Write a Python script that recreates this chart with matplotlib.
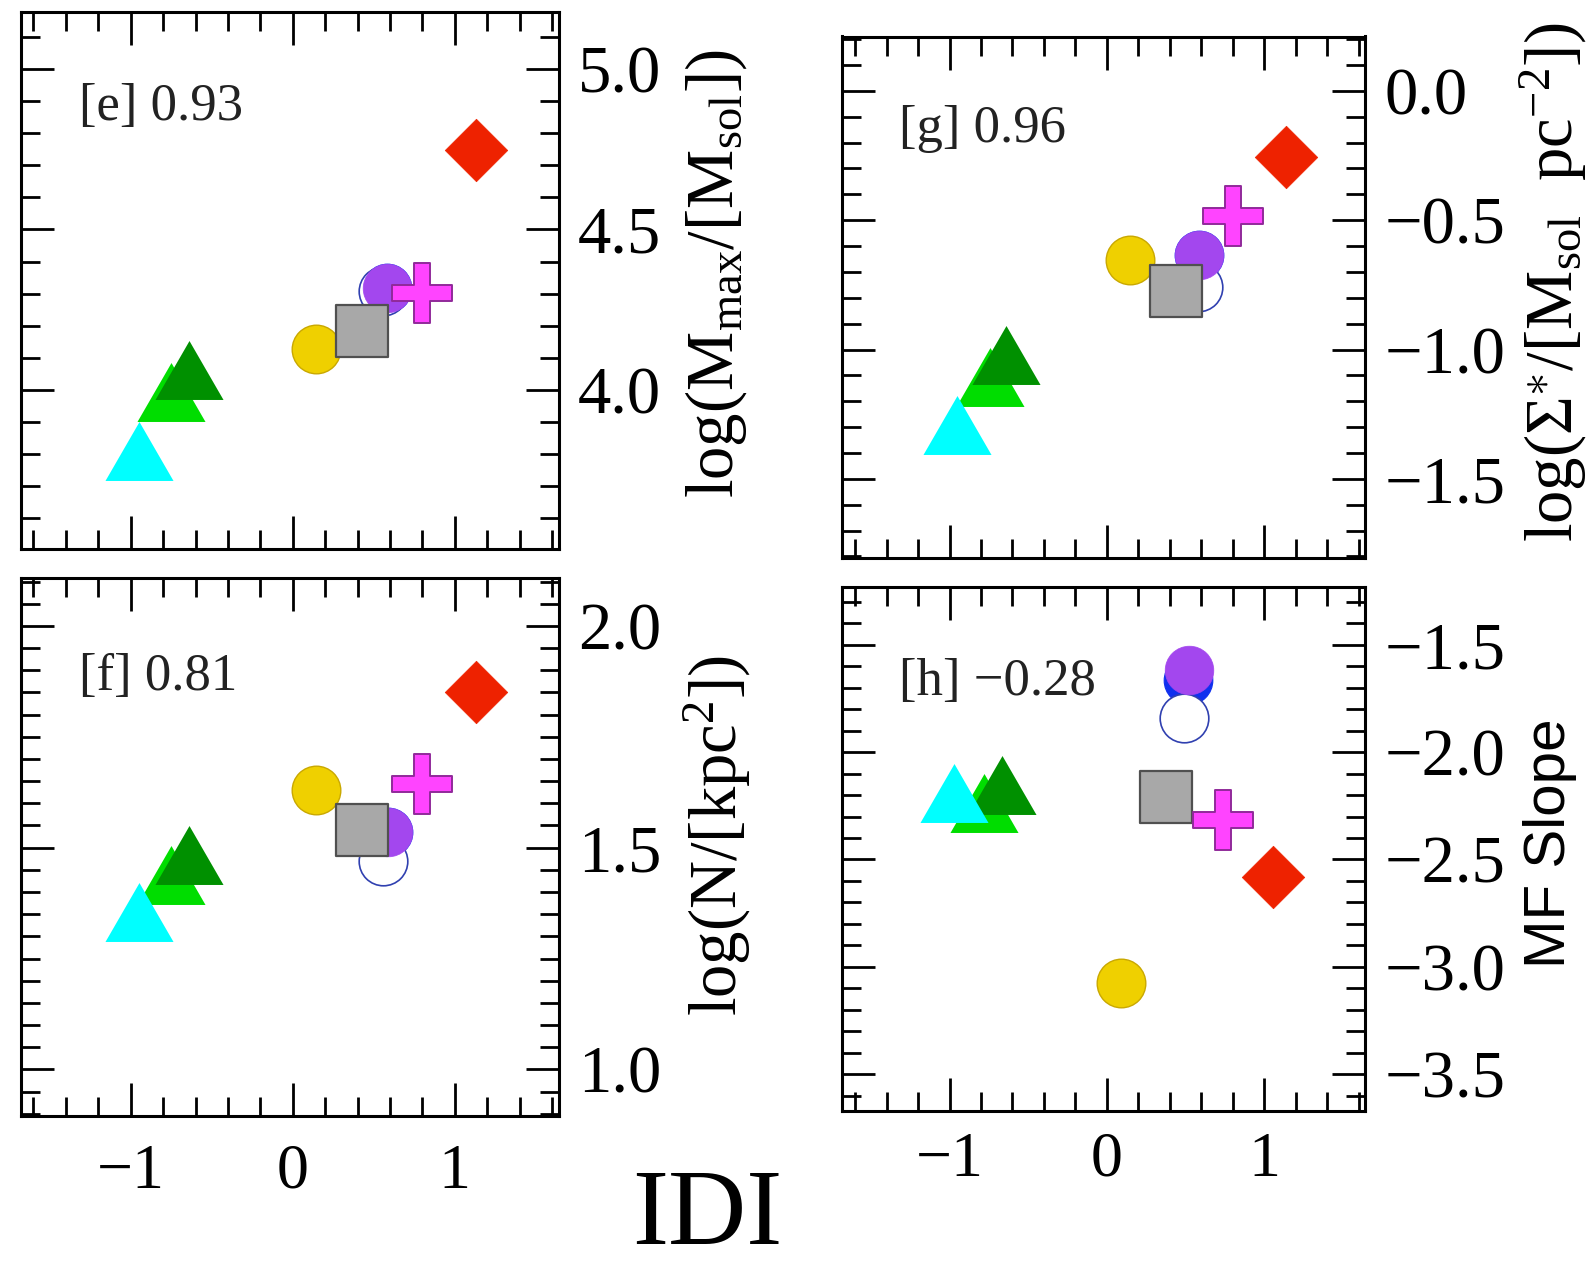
import numpy as np
import matplotlib
matplotlib.use("Agg")
import matplotlib.pyplot as plt
from matplotlib.path import Path
from matplotlib.ticker import MultipleLocator

plt.rcParams['font.family'] = ['Liberation Serif', 'DejaVu Serif']
plt.rcParams['mathtext.fontset'] = 'custom'
plt.rcParams['mathtext.rm'] = 'Liberation Serif'
plt.rcParams['mathtext.it'] = 'Liberation Serif:italic'
plt.rcParams['mathtext.bf'] = 'Liberation Serif:bold'

# ---------------- data ----------------
series = ["tri_lime", "tri_dkgreen", "tri_cyan", "circ_yellow", "circ_blue",
          "circ_open", "circ_purple", "sq_gray", "plus_magenta", "diamond_red"]

# panel [e]  log(Mmax)
idi_e = [-0.752, -0.642, -0.950, 0.145, 0.580, 0.554, 0.580, 0.428, 0.800, 1.130]
mmax_e = [3.994, 4.061, 3.809, 4.128, 4.317, 4.309, 4.317, 4.183, 4.302, 4.747]

# panel [f]  log(N)
idi_f = [-0.752, -0.642, -0.950, 0.145, 0.585, 0.554, 0.585, 0.428, 0.800, 1.130]
n_f = [1.438, 1.483, 1.355, 1.631, 1.536, 1.470, 1.536, 1.539, 1.643, 1.851]

# panel [g]  log(Sigma*)
idi_g = [-0.740, -0.644, -0.952, 0.149, 0.588, 0.580, 0.588, 0.437, 0.800, 1.137]
sigma_g = [-1.106, -1.021, -1.292, -0.655, -0.634, -0.759, -0.634, -0.772, -0.483, -0.255]

# panel [h]  MF slope
idi_h = [-0.782, -0.669, -0.974, 0.091, 0.518, 0.492, 0.524, 0.373, 0.736, 1.053]
slope_h = [-2.237, -2.153, -2.192, -3.075, -1.667, -1.842, -1.617, -2.208, -2.317, -2.580]

labels_corr = ["[e] 0.93", "[f] 0.81", "[g] 0.96", "[h] \u22120.28"]
xticks = [-1, 0, 1]

# ---------------- marker shapes ----------------
def closed(verts):
    v = np.array(verts + [verts[0]], dtype=float)
    return Path(v, closed=True)

s3 = np.sqrt(3) / 2
TRI = closed([(-1, -s3), (1, -s3), (0, s3)])
SQR = closed([(-1, -1), (1, -1), (1, 1), (-1, 1)])
DIA = closed([(0, 1), (1, 0), (0, -1), (-1, 0)])
t = 0.28
PLUS = closed([(-t, 1), (t, 1), (t, t), (1, t), (1, -t), (t, -t), (t, -1),
               (-t, -1), (-t, -t), (-1, -t), (-1, t), (-t, t)])

styles = {
    "tri_lime":     dict(marker=TRI, ms=49, mfc="#00dd00", mec="none", mew=0),
    "tri_dkgreen":  dict(marker=TRI, ms=49, mfc="#009000", mec="none", mew=0),
    "tri_cyan":     dict(marker=TRI, ms=49, mfc="#00ffff", mec="none", mew=0),
    "circ_yellow":  dict(marker="o", ms=35, mfc="#efd000", mec="#c9a800", mew=1.0),
    "circ_blue":    dict(marker="o", ms=35, mfc="#1030ee", mec="#1030ee", mew=0.8),
    "circ_open":    dict(marker="o", ms=35, mfc="white", mec="#3040b0", mew=1.2),
    "circ_purple":  dict(marker="o", ms=35, mfc="#a347ee", mec="#a347ee", mew=0.5),
    "sq_gray":      dict(marker=SQR, ms=37, mfc="#a8a8a8", mec="#505050", mew=1.6),
    "plus_magenta": dict(marker=PLUS, ms=43, mfc="#ff44ff", mec="#902a9a", mew=1.4),
    "diamond_red":  dict(marker=DIA, ms=45, mfc="#ee2200", mec="#ee2200", mew=0.5),
}

W, H = 1591, 1268
fig = plt.figure(figsize=(W / 100, H / 100), dpi=100)

def rect(l, r, t_, b):
    return [l / W, 1 - b / H, (r - l) / W, (b - t_) / H]

panels = [
    dict(rect=rect(20.5, 558.5, 12, 549), x=idi_e, y=mmax_e, ylim=(3.504, 5.178),
         ymaj=0.5, ymin=0.1, fmt="{:.1f}",
         ylabel=r"log(M$_{\rm max}$/[M$_{\rm sol}$])", lab=(1.293, 0.512), lfam=None,
         xlab=False, txt=labels_corr[0], txy=(0.109, 0.799), xpad=20),
    dict(rect=rect(20.5, 558.5, 578, 1116), x=idi_f, y=n_f, ylim=(0.895, 2.108),
         ymaj=0.5, ymin=0.05, fmt="{:.1f}",
         ylabel=r"log(N/[kpc$^{2}$])", lab=(1.295, 0.522), lfam=None,
         xlab=True, txt=labels_corr[1], txy=(0.109, 0.792), xpad=20),
    dict(rect=rect(842.5, 1365, 36.5, 558), x=idi_g, y=sigma_g, ylim=(-1.806, 0.21),
         ymaj=0.5, ymin=0.1, fmt="{:.1f}",
         ylabel=r"log($\Sigma^{\ast}$/[M$_{\rm sol}$  pc$^{-2}$])", lab=(1.360, 0.529), lfam=None,
         xlab=False, txt=labels_corr[2], txy=(0.108, 0.798), xpad=15),
    dict(rect=rect(842.5, 1365, 586.5, 1111), x=idi_h, y=slope_h, ylim=(-3.67, -1.23),
         ymaj=0.5, ymin=0.1, fmt="{:.1f}",
         ylabel="MF Slope", lab=(1.354, 0.511), lfam="Liberation Sans",
         xlab=True, txt=labels_corr[3], txy=(0.108, 0.793), xpad=15),
]

for p in panels:
    ax = fig.add_axes(p["rect"])
    for name, xv, yv in zip(series, p["x"], p["y"]):
        ax.plot([xv], [yv], linestyle="none", **styles[name])
    ax.set_xlim(-1.68, 1.64)
    ax.set_ylim(*p["ylim"])
    ax.xaxis.set_major_locator(MultipleLocator(1))
    ax.xaxis.set_minor_locator(MultipleLocator(0.2))
    ax.yaxis.set_major_locator(MultipleLocator(p["ymaj"]))
    ax.yaxis.set_minor_locator(MultipleLocator(p["ymin"]))
    ax.tick_params(which="both", direction="in", top=True, bottom=True,
                   left=True, right=True, width=2.0, color="black")
    ax.tick_params(which="major", length=24)
    ax.tick_params(which="minor", length=14)
    ax.tick_params(axis="y", labelleft=False, labelright=True, labelsize=48, pad=14)
    ax.tick_params(axis="x", labelsize=46, pad=p["xpad"], labelbottom=p["xlab"])
    ax.set_xticks(xticks)
    ax.set_xticklabels([("\u2212" if v < 0 else "") + str(abs(v)) for v in xticks])
    yt = [v for v in ax.get_yticks() if p["ylim"][0] <= v <= p["ylim"][1]]
    ax.set_yticks(yt)
    ax.set_yticklabels([p["fmt"].format(v).replace("-", "\u2212") for v in yt])
    for sp in ax.spines.values():
        sp.set_linewidth(2.2)
    ax.yaxis.set_label_position("right")
    kw = dict(fontsize=48 if p["lfam"] is None else 42, rotation=90)
    if p["lfam"] is not None:
        kw["family"] = p["lfam"]
    ax.set_ylabel(p["ylabel"], **kw)
    ax.yaxis.label.set_verticalalignment("center")
    ax.yaxis.label.set_horizontalalignment("center")
    ax.yaxis.set_label_coords(*p["lab"])
    ax.text(p["txy"][0], p["txy"][1], p["txt"], transform=ax.transAxes,
            fontsize=38, ha="left", va="baseline", color="#222222")

fig.text(707 / W, 1 / H, "IDI", fontsize=78, ha="center", va="bottom")

fig.savefig("out.png", dpi=100)
